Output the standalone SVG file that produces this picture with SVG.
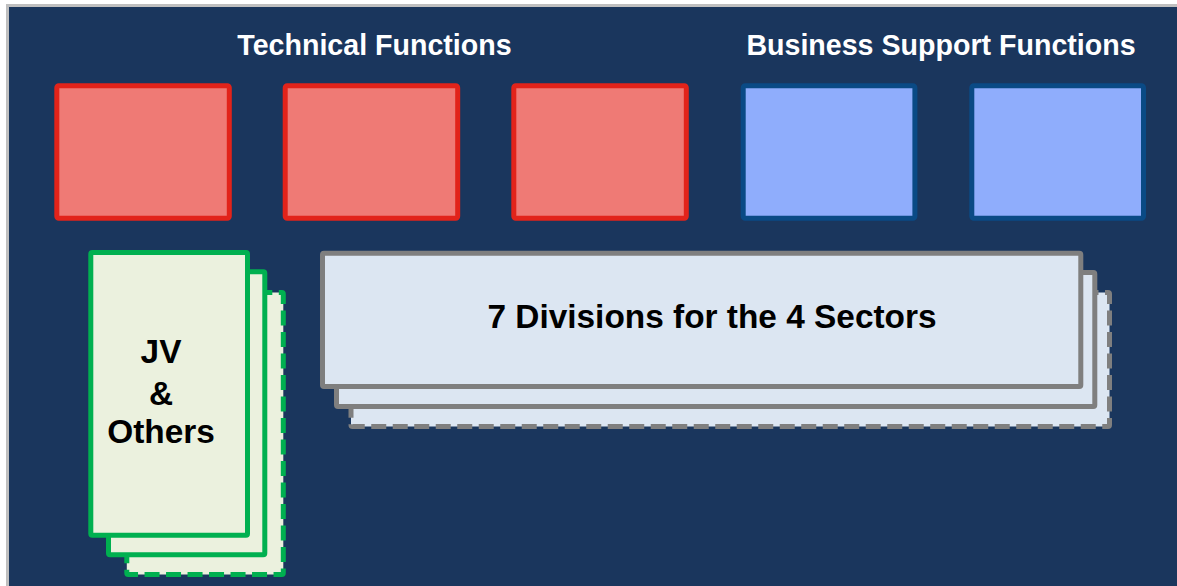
<svg xmlns="http://www.w3.org/2000/svg" width="1177" height="586" viewBox="0 0 1177 586">
<style>
.title{font-family:"Liberation Sans",Arial,sans-serif;font-weight:bold;font-size:28.6px;fill:#ffffff;text-anchor:middle}
.lbl{font-family:"Liberation Sans",Arial,sans-serif;font-weight:bold;font-size:33.4px;fill:#000000;text-anchor:middle}
.red{fill:#ef7a75;stroke:#e2231a;stroke-width:5}
.blue{fill:#8fadfc;stroke:#0a4a85;stroke-width:5}
.green{fill:#ebf1de;stroke:#00b050;stroke-width:5}
.gray{fill:#dce6f2;stroke:#7f7f7f;stroke-width:5}
.dash{stroke-dasharray:15 6.5}
</style>
<rect id="frame" x="7.5" y="5.5" width="1180" height="590" fill="#1a365d" stroke="#bfbfbf" stroke-width="3"/>
<g id="headings">
<text class="title" x="374.5" y="55">Technical Functions</text>
<text class="title" x="941" y="55">Business Support Functions</text>
</g>
<g id="tech1"><rect class="red" x="56.8" y="85.8" width="172.5" height="132.5" rx="2"/></g>
<g id="tech2"><rect class="red" x="285.2" y="85.8" width="172.5" height="132.5" rx="2"/></g>
<g id="tech3"><rect class="red" x="513.8" y="85.8" width="172.5" height="132.5" rx="2"/></g>
<g id="bsf1"><rect class="blue" x="743.2" y="85.8" width="171.7" height="132.5" rx="2"/></g>
<g id="bsf2"><rect class="blue" x="971.8" y="85.8" width="171.7" height="132.5" rx="2"/></g>
<g id="jv">
<rect class="green dash" x="126.8" y="292.5" width="156.5" height="282" rx="1.5"/>
<rect class="green" x="108.5" y="271.8" width="156.3" height="283" rx="1.5"/>
<rect class="green" x="90.8" y="252.5" width="156.7" height="282.7" rx="1.5"/>
<text class="lbl" x="161" y="363">JV</text>
<text class="lbl" x="161" y="405">&amp;</text>
<text class="lbl" x="161" y="443">Others</text>
</g>
<g id="divisions">
<rect class="gray dash" x="351" y="292.5" width="758.5" height="134" rx="1.5"/>
<rect class="gray" x="336.5" y="272.5" width="758.3" height="134" rx="1.5"/>
<rect class="gray" x="322.5" y="253.2" width="758.3" height="133.3" rx="1.5"/>
<text class="lbl" x="712" y="328">7 Divisions for the 4 Sectors</text>
</g>
<g id="connectors"/>
</svg>
